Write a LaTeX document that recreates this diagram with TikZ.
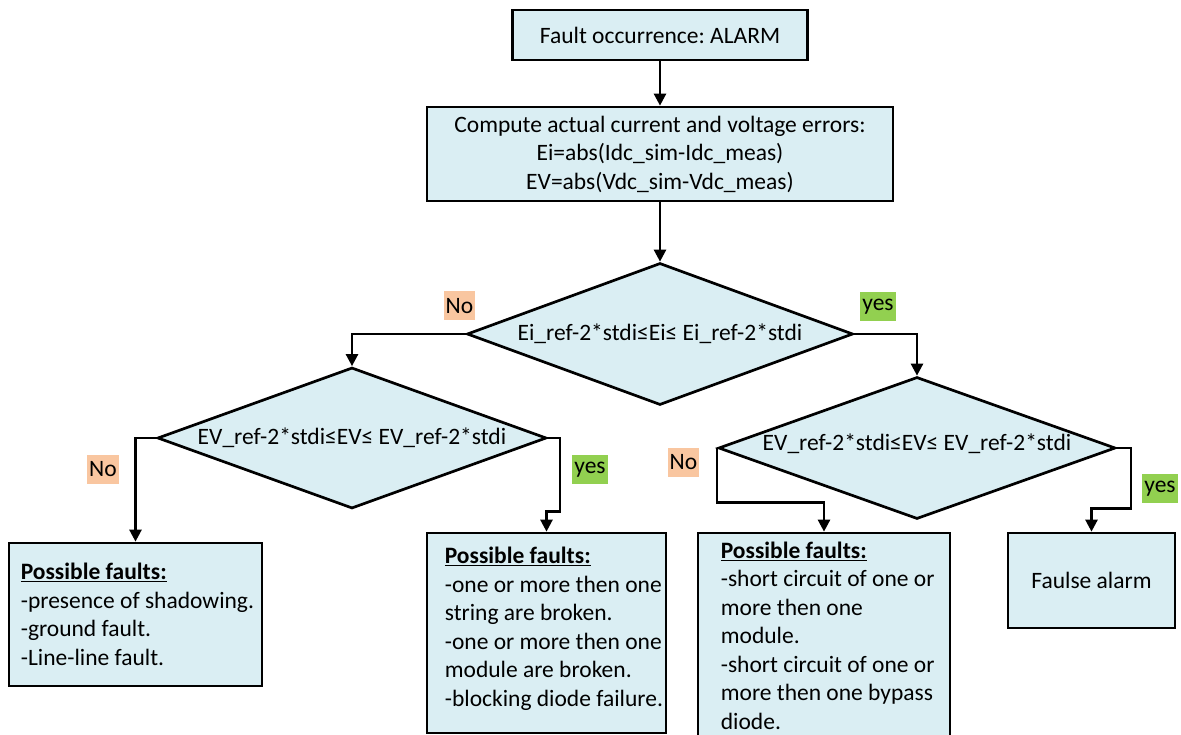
\documentclass[tikz,border=0pt]{standalone}
\usepackage{fontspec}
\setmainfont{Carlito}
\usetikzlibrary{shapes.geometric,arrows.meta,positioning}
\definecolor{cellblue}{HTML}{DAEEF3}
\definecolor{noorange}{HTML}{F9C6A0}
\definecolor{yesgreen}{HTML}{92D050}
\tikzstyle{block} = [draw,line width=2.7pt,fill=cellblue,rectangle,inner sep=0,align=center]
\tikzstyle{decision} = [draw,line width=2.7pt,fill=cellblue,diamond,inner sep=0]
\tikzstyle{listtext} = [inner sep=0,align=left,anchor=west]
\tikzstyle{flow} = [-{Triangle[length=12pt,width=12pt]},line width=2.5pt]
\tikzstyle{nolbl} = [fill=noorange,inner xsep=2pt,inner ysep=0,minimum height=29pt]
\tikzstyle{yeslbl} = [fill=yesgreen,inner xsep=2pt,inner ysep=0,minimum height=29pt]
\def \pf {\underline{\textbf{Possible faults:}}}
\frenchspacing

\begin{document}
\begin{tikzpicture}[x=1pt,y=-1pt,font=\fontsize{23.5}{28.5}\selectfont]
      \clip (0,0) rectangle (1181,735);
      % boxes
      \node[block,minimum width=295pt,minimum height=50pt] (alarm) at (660,35) {Fault occurrence: ALARM};
      \node[block,minimum width=466pt,minimum height=94pt] (compute) at (660,154) {Compute actual current and voltage errors:\\ Ei=abs(Idc\_sim-Idc\_meas)\\ EV=abs(Vdc\_sim-Vdc\_meas)};
      % decisions
      \node[decision,minimum width=386pt,minimum height=142pt] (d1) at (660,334) {};
      \node (d1txt) at (d1.center) {Ei\_ref-2*stdi≤Ei≤ Ei\_ref-2*stdi};
      \node[decision,minimum width=389pt,minimum height=141pt] (d2) at (352,438) {};
      \node (d2txt) at (d2.center) {EV\_ref-2*stdi≤EV≤ EV\_ref-2*stdi};
      \node[decision,minimum width=397pt,minimum height=142pt] (d3) at (917,448) {};
      \node (d3txt) at ([yshift=4pt]d3.center) {EV\_ref-2*stdi≤EV≤ EV\_ref-2*stdi};
      % results
      \node[block,minimum width=253pt,minimum height=143pt] (f1) at (135.5,614.5) {};
      \node[listtext,right=13pt of f1.west] (f1txt) {\pf\\ -presence of shadowing.\\ -ground fault.\\ -Line-line fault.};
      \node[block,minimum width=239pt,minimum height=200pt] (f2) at (546.5,633) {};
      \node[listtext,right=19pt of f2.west,yshift=4pt] (f2txt) {\pf\\ -one or more then one\\ string are broken.\\ -one or more then one\\ module are broken.\\ -blocking diode failure.};
      \node[block,minimum width=252pt,minimum height=205pt] (f3) at (824,635.5) {};
      \node[listtext,right=24pt of f3.west] (f3txt) {\pf\\ -short circuit of one or\\ more then one\\ module.\\ -short circuit of one or\\ more then one bypass\\ diode.};
      \node[block,minimum width=167pt,minimum height=95pt] (f4) at (1091.5,580.5) {Faulse alarm};
      % yes / no tags
      \node[nolbl] (no1) at (459.5,306) {No};
      \node[yeslbl] (yes1) at (878,306.5) {yes};
      \node[nolbl] (no2) at (103,469.5) {No};
      \node[yeslbl] (yes2) at (590,469.5) {yes};
      \node[nolbl] (no3) at (683.5,462.5) {No};
      \node[yeslbl] (yes3) at (1160,488.5) {yes};
      % connectors
      \draw[flow] (alarm.south) -- (compute.north);
      \draw[flow] (compute.south) -- (d1.north);
      \draw[flow] (d1.west) -| (d2.north);
      \draw[flow] (d1.east) -| (d3.north);
      \draw[flow] (d2.west) -| (f1.north);
      \draw[flow] (d2.east) -- ++(12,0) |- ([yshift=20pt]f2.north) -- (f2.north);
      \draw[flow] (d3.west) |- ([yshift=29pt]f3.north) -- (f3.north);
      \draw[flow] (d3.east) -- ++(14,0) |- ([yshift=23pt]f4.north) -- (f4.north);
    \end{tikzpicture}
\end{document}
